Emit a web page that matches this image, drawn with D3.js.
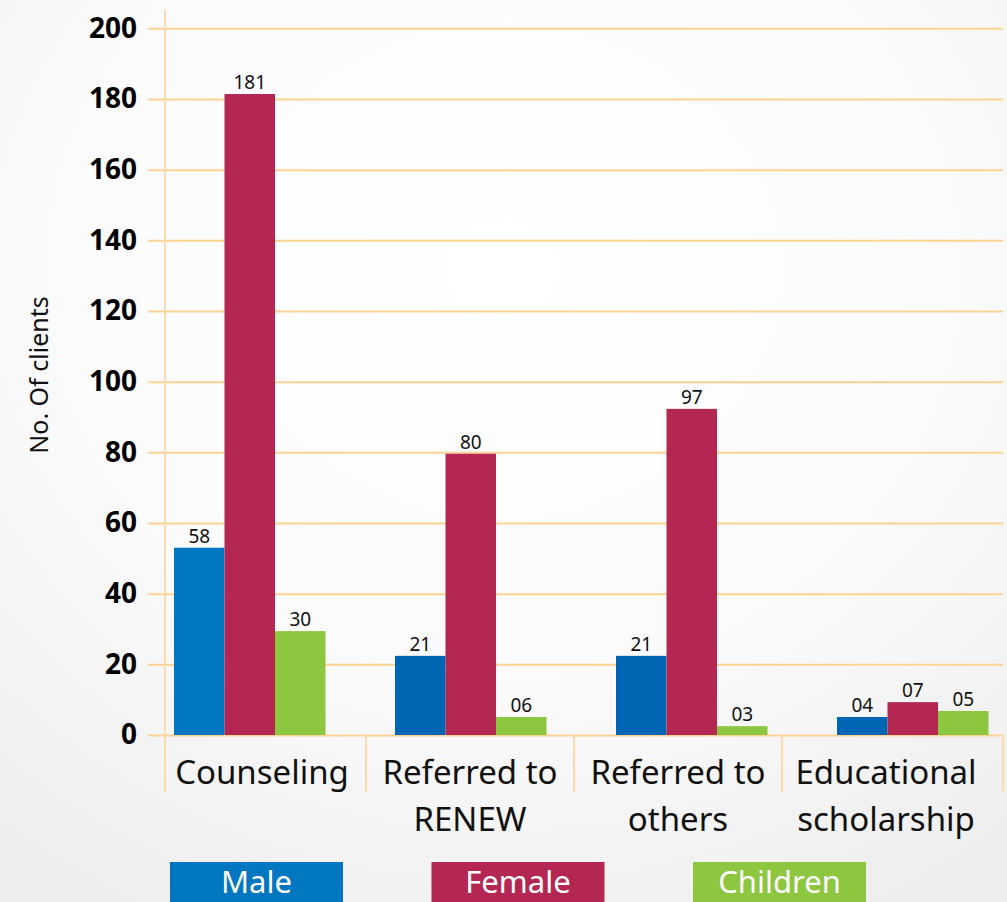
<!DOCTYPE html>
<html>
<head>
<meta charset="utf-8">
<script src="https://cdn.jsdelivr.net/npm/d3@7"></script>
<style>
    html, body { margin: 0; padding: 0; background: #f6f6f6; }
    svg { display: block; font-family: "Noto Sans", sans-serif; }
</style>
</head>
<body>
<div id="chart"></div>
<script>
// categories and series
let categories = ['Counseling', 'Referred to RENEW', 'Referred to others', 'Educational scholarship'];
let categoryLines = [['Counseling'], ['Referred to', 'RENEW'], ['Referred to', 'others'], ['Educational', 'scholarship']];
let series = ['Male', 'Female', 'Children'];

// bar heights as drawn in the picture
let maleValues = [53, 22.4, 22.4, 5.1];
let femaleValues = [181.4, 79.6, 92.3, 9.3];
let childrenValues = [29.4, 5.1, 2.5, 6.8];

// value labels as printed above the bars
let maleLabels = ['58', '21', '21', '04'];
let femaleLabels = ['181', '80', '97', '07'];
let childrenLabels = ['30', '06', '03', '05'];

let yTicks = [0, 20, 40, 60, 80, 100, 120, 140, 160, 180, 200];

let colors = {Male: '#0077c0', Female: '#b52753', Children: '#8dc63f'};

//set chart constants
let totalWidth = 1007;
let totalHeight = 902;
let plotRight = 1003;

let svg = d3.select('#chart')
    .append('svg')
    .attr('width', totalWidth)
    .attr('height', totalHeight);

// soft radial background
let defs = svg.append('defs');
let grad = defs.append('radialGradient')
    .attr('id', 'bg')
    .attr('cx', '0.5').attr('cy', '0.3').attr('r', '0.8');
grad.append('stop').attr('offset', '0').attr('stop-color', '#ffffff');
grad.append('stop').attr('offset', '0.55').attr('stop-color', '#fbfbfb');
grad.append('stop').attr('offset', '1').attr('stop-color', '#eeeeee');

svg.append('rect')
    .attr('width', totalWidth)
    .attr('height', totalHeight)
    .style('fill', 'url(#bg)');

// build rows for the bars
let rows = [];
for (let i = 0; i < categories.length; i++) {
    rows.push({key: 'Male', cat: categories[i], value: maleValues[i], label: maleLabels[i], idx: i});
    rows.push({key: 'Female', cat: categories[i], value: femaleValues[i], label: femaleLabels[i], idx: i});
    rows.push({key: 'Children', cat: categories[i], value: childrenValues[i], label: childrenLabels[i], idx: i});
}

let yScale = d3.scaleLinear()
    .domain([0, 200])
    .range([735, 28.3]);

// category bands for the axis labels / separators
let xScale = d3.scaleBand()
    .domain(categories)
    .range([158, 990]);

// bar groups sit a little differently from the label bands
let groupScale = d3.scaleBand()
    .domain(categories)
    .range([139, 1023]);

let subScale = d3.scaleBand()
    .domain(series)
    .range([35, 186.5]);

// gridlines
let grid = svg.append('g')
    .attr('class', 'grid')
    .attr('transform', `translate(${plotRight}, 0)`)
    .call(d3.axisLeft(yScale).tickValues(yTicks).tickSize(plotRight - 148).tickFormat(''));
grid.select('.domain').remove();
grid.selectAll('line')
    .style('stroke', '#fdd393')
    .style('stroke-width', 2);

// vertical axis line
svg.append('line')
    .attr('x1', 165).attr('x2', 165)
    .attr('y1', 10).attr('y2', 792)
    .style('stroke', '#fddcaa')
    .style('stroke-width', 2);

// category separators
svg.append('g')
    .selectAll('line')
    .data(categories.slice(1).map(c => xScale(c)).concat([plotRight]))
    .enter()
    .append('line')
    .attr('x1', d => d).attr('x2', d => d)
    .attr('y1', yScale(0)).attr('y2', 792)
    .style('stroke', '#fddcaa')
    .style('stroke-width', 2);

// y tick labels
let yAxis = svg.append('g')
    .attr('transform', 'translate(150, 0)')
    .call(d3.axisLeft(yScale).tickValues(yTicks).tickSize(0).tickPadding(13));
yAxis.select('.domain').remove();
yAxis.selectAll('text')
    .style('font-family', '"Noto Sans", sans-serif')
    .style('font-size', '28px')
    .style('font-weight', 'bold')
    .style('fill', '#000');

// axis title
svg.append('text')
    .attr('transform', 'translate(48, 375) rotate(-90)')
    .attr('text-anchor', 'middle')
    .style('font-size', '25px')
    .style('fill', '#111')
    .text('No. Of clients');

// bars
let barColor = function(d) {
    // males beyond the first group are a shade darker in the picture
    if (d.key === 'Male' && d.idx > 0) {
        return '#0066b3';
    }
    return colors[d.key];
};

svg.append('g')
    .selectAll('rect')
    .data(rows)
    .enter()
    .append('rect')
    .attr('x', d => groupScale(d.cat) + subScale(d.key))
    .attr('y', d => yScale(d.value))
    .attr('width', subScale.bandwidth())
    .attr('height', d => yScale(0) - yScale(d.value))
    .style('fill', barColor);

// value labels
svg.append('g')
    .selectAll('text')
    .data(rows)
    .enter()
    .append('text')
    .attr('x', d => groupScale(d.cat) + subScale(d.key) + subScale.bandwidth() / 2)
    .attr('y', d => yScale(d.value) - 5)
    .attr('text-anchor', 'middle')
    .style('font-size', '19px')
    .style('fill', '#111')
    .text(d => d.label);

// category labels
let catLabels = svg.append('g')
    .selectAll('text')
    .data(categories)
    .enter()
    .append('text')
    .attr('text-anchor', 'middle')
    .style('font-size', '33px')
    .style('fill', '#111');

catLabels.selectAll('tspan')
    .data((d, i) => categoryLines[i].map(line => ({line: line, cat: d})))
    .enter()
    .append('tspan')
    .attr('x', d => xScale(d.cat) + xScale.bandwidth() / 2)
    .attr('y', (d, j) => 784 + j * 47)
    .text(d => d.line);

// legend boxes
let legend = svg.selectAll('.legend')
    .data(series)
    .enter()
    .append('g')
    .attr('class', 'legend')
    .attr('transform', (d, i) => `translate(${170 + i * 261.5}, 862)`);

legend.append('rect')
    .attr('width', 173)
    .attr('height', 50)
    .style('fill', d => colors[d]);

legend.append('text')
    .attr('x', 86.5)
    .attr('y', 31)
    .attr('text-anchor', 'middle')
    .style('font-size', '31px')
    .style('fill', '#fff')
    .text(d => d);
</script>
</body>
</html>
